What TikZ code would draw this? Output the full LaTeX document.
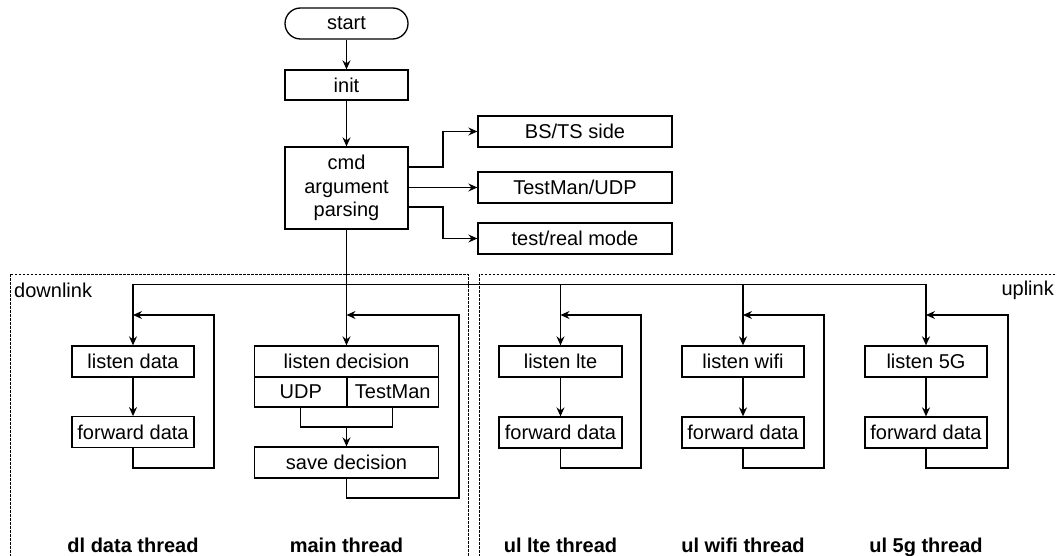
\documentclass[tikz,border=0pt]{standalone}
\usepackage{fontspec}
\setmainfont{Liberation Sans}
\usetikzlibrary{arrows.meta,calc}
\begin{document}
\begin{tikzpicture}[x=1pt,y=-1pt,
  every node/.style={font=\fontsize{20}{23.5}\selectfont, inner sep=0pt},
  box/.style={draw, line width=1.3pt, minimum height=31pt, align=center},
  wbox/.style={box, minimum width=123pt},
  sbox/.style={box, minimum width=194pt},
  arr/.style={line width=1.3pt, -{Stealth[length=9pt,width=8pt,inset=3pt]}},
  ln/.style={line width=1.3pt},
  area/.style={draw, line width=0.9pt, dash pattern=on 2.5pt off 1.5pt},
  tlabel/.style={font=\fontsize{20}{23.5}\selectfont\bfseries, anchor=base}
]
\useasboundingbox (0,0) rectangle (1057,556);
\clip (0,0) rectangle (1057,556);

% thread areas
\draw[area] (10.5,274) rectangle (468,600);
\draw[area] (479,274) rectangle (1075,600);
\node[anchor=west] (dltxt) at (14,290) {downlink};
\node[anchor=east] (ultxt) at (1054,290) {uplink};

% start-up sequence
\node[wbox, rounded corners=15.5pt] (start) at (346.5,23.5) {start};
\node[wbox, minimum height=30pt] (init) at (346.5,85) {init};
\node[wbox, minimum height=82pt] (cmd) at (346.5,188) {cmd\\argument\\parsing};
\node[sbox] (bs) at (575,131.5) {BS/TS side};
\node[sbox] (tm) at (575,187.5) {TestMan/UDP};
\node[sbox] (tr) at (575,238.5) {test/real mode};

\draw[arr] (start) -- (init);
\draw[arr] (init) -- (cmd);
\coordinate (b1) at (443,131.5);
\coordinate (b3) at (443,238.5);
\draw[arr] ($(cmd.east)+(0,-21)$) -| (b1) -- (bs.west);
\draw[arr] (cmd.east |- tm.west) -- (tm.west);
\draw[arr] ($(cmd.east)+(0,19)$) -| (b3) -- (tr.west);

% dl data thread
\node[wbox, minimum width=122pt] (ldata) at (133,361.5) {listen data};
\node[wbox, minimum width=122pt, minimum height=30.5pt] (fdata) at (133,432) {forward data};

% main thread
\node[box, minimum width=184pt] (ldec) at (346.5,361.5) {listen decision};
\node[box, minimum width=92.5pt, minimum height=30pt] (udp) at (300.75,392) {UDP};
\node[box, minimum width=91.5pt, minimum height=30pt] (tman) at (392.75,392) {TestMan};
\node[box, minimum width=184pt] (save) at (346.5,462.5) {save decision};

% uplink threads
\node[wbox] (llte) at (560.5,361.5) {listen lte};
\node[wbox] (flte) at (560.5,432.5) {forward data};
\node[wbox, minimum width=122pt] (lwifi) at (743,361.5) {listen wifi};
\node[wbox, minimum width=122pt] (fwifi) at (743,432.5) {forward data};
\node[wbox, minimum width=122pt] (l5g) at (926,361.5) {listen 5G};
\node[wbox, minimum width=122pt] (f5g) at (926,432.5) {forward data};

% thread names
\node[tlabel] (ndl) at (133,552) {dl data thread};
\node[tlabel] (nmain) at (346.5,552) {main thread};
\node[tlabel] (nlte) at (560.5,552) {ul lte thread};
\node[tlabel] (nwifi) at (743,552) {ul wifi thread};
\node[tlabel] (n5g) at (926,552) {ul 5g thread};

% fan-out bus to all threads
\coordinate (bus) at (346.5,284.5);
\draw[arr] (cmd.south) -- (ldec.north);
\draw[arr] (bus) -| (ldata.north);
\draw[arr] (bus) -| (llte.north);
\draw[arr] (bus) -| (lwifi.north);
\draw[arr] (bus) -| (l5g.north);

% steps inside threads
\draw[arr] (ldata) -- (fdata);
\draw[arr] (llte) -- (flte);
\draw[arr] (lwifi) -- (fwifi);
\draw[arr] (l5g) -- (f5g);
\coordinate (merge) at (346.5,427);
\draw[ln] (udp.south) |- (merge) -| (tman.south);
\draw[arr] (merge) -- (save.north);

% loop-backs
\coordinate (back) at (0,315);
\coordinate (rdl) at (214,468);
\coordinate (rmain) at (459,498);
\coordinate (rlte) at (641,468);
\coordinate (rwifi) at (824,468);
\coordinate (r5g) at (1008,468);
\draw[arr] (fdata.south) |- (rdl) |- (ldata.north |- back);
\draw[arr] (save.south) |- (rmain) |- (ldec.north |- back);
\draw[arr] (flte.south) |- (rlte) |- (llte.north |- back);
\draw[arr] (fwifi.south) |- (rwifi) |- (lwifi.north |- back);
\draw[arr] (f5g.south) |- (r5g) |- (l5g.north |- back);
\end{tikzpicture}
\end{document}
